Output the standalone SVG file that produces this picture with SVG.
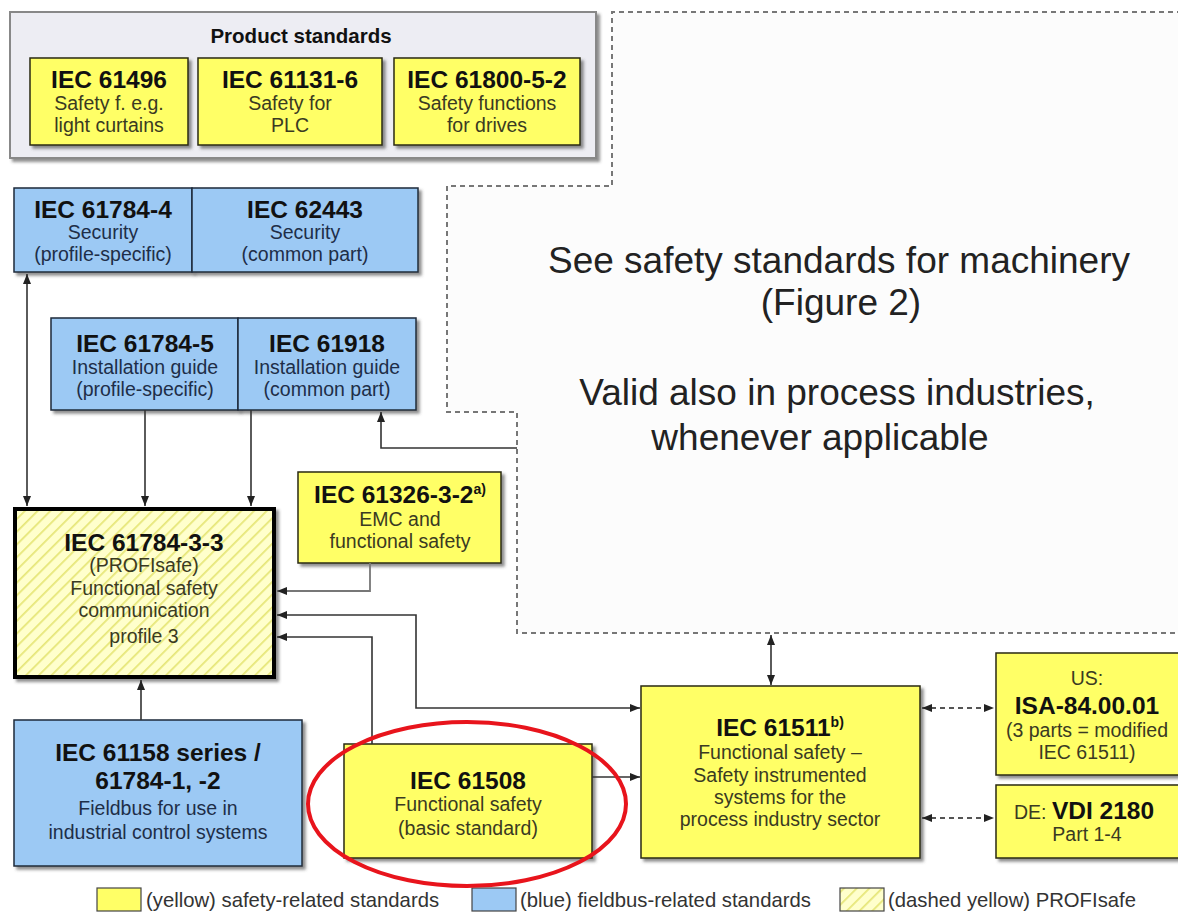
<svg xmlns="http://www.w3.org/2000/svg" width="1178" height="913" viewBox="0 0 1178 913">
<defs>
<style>
text{font-family:"Liberation Sans",Arial,sans-serif;text-anchor:middle}
.t{font-weight:bold;font-size:24.5px;fill:#111}
.s{font-size:19.5px;fill:#3a3a22}
.sb{font-size:19.5px;fill:#1e2e48}
.big{font-size:37px;fill:#222}
.leg{font-size:20.3px;fill:#333;text-anchor:start}
.y{fill:#ffff66;stroke:#2a2a10;stroke-width:1.5}
.b{fill:#9cc9f4;stroke:#1e2a3a;stroke-width:1.5}
.c{fill:none;stroke:#333;stroke-width:1.6}
.cg{fill:none;stroke:#777;stroke-width:1.8}
.cd{fill:none;stroke:#555;stroke-width:1.8;stroke-dasharray:5,4}
</style>
<filter id="sh" x="-10%" y="-10%" width="125%" height="125%">
<feDropShadow dx="3" dy="3" stdDeviation="1.5" flood-color="#444" flood-opacity="0.6"/>
</filter>
<pattern id="hatch" patternUnits="userSpaceOnUse" width="9" height="9" patternTransform="rotate(45)">
<rect width="9" height="9" fill="#ffffcc"/>
<line x1="0" y1="0" x2="0" y2="9" stroke="#e6e678" stroke-width="3.5"/>
</pattern>
<marker id="ah" viewBox="0 0 10 8" refX="10" refY="4" markerWidth="10" markerHeight="8" markerUnits="userSpaceOnUse" orient="auto-start-reverse">
<path d="M0,0 L10,4 L0,8 z" fill="#222"/>
</marker>
</defs>
<rect width="1178" height="913" fill="#fff"/>

<g id="machinery-region">
<path d="M1182,12 H612 V186 H447 V412 H517 V633 H1182" fill="#fcfcfc" stroke="#777" stroke-width="2" stroke-dasharray="5,4"/>
<text class="big" x="839" y="273">See safety standards for machinery</text>
<text class="big" x="841" y="315">(Figure 2)</text>
<text class="big" x="837" y="405">Valid also in process industries,</text>
<text class="big" x="820" y="450">whenever applicable</text>
</g>

<g id="product-standards">
<rect x="10" y="12" width="586" height="146" fill="#ededf3" stroke="#888" stroke-width="2" filter="url(#sh)"/>
<text x="301" y="43" style="font-weight:bold;font-size:20.5px;fill:#111">Product standards</text>
</g>
<g id="iec61496">
<rect class="y" x="30" y="58" width="158" height="87" filter="url(#sh)"/>
<text class="t" x="109" y="88">IEC 61496</text>
<text class="s" x="109" y="110">Safety f. e.g.</text>
<text class="s" x="109" y="132">light curtains</text>
</g>
<g id="iec61131-6">
<rect class="y" x="198" y="58" width="184" height="87" filter="url(#sh)"/>
<text class="t" x="290" y="88">IEC 61131-6</text>
<text class="s" x="290" y="110">Safety for</text>
<text class="s" x="290" y="132">PLC</text>
</g>
<g id="iec61800-5-2">
<rect class="y" x="394" y="58" width="186" height="87" filter="url(#sh)"/>
<text class="t" x="487" y="88">IEC 61800-5-2</text>
<text class="s" x="487" y="110">Safety functions</text>
<text class="s" x="487" y="132">for drives</text>
</g>

<g id="iec61784-4">
<rect class="b" x="14" y="188" width="178" height="84" filter="url(#sh)"/>
<text class="t" x="103" y="218">IEC 61784-4</text>
<text class="sb" x="103" y="239">Security</text>
<text class="sb" x="103" y="261">(profile-specific)</text>
</g>
<g id="iec62443">
<rect class="b" x="192" y="188" width="226" height="84" filter="url(#sh)"/>
<text class="t" x="305" y="218">IEC 62443</text>
<text class="sb" x="305" y="239">Security</text>
<text class="sb" x="305" y="261">(common part)</text>
</g>
<g id="iec61784-5">
<rect class="b" x="51" y="318" width="187" height="92" filter="url(#sh)"/>
<text class="t" x="145" y="352">IEC 61784-5</text>
<text class="sb" x="145" y="374">Installation guide</text>
<text class="sb" x="145" y="396">(profile-specific)</text>
</g>
<g id="iec61918">
<rect class="b" x="238" y="318" width="178" height="92" filter="url(#sh)"/>
<text class="t" x="327" y="352">IEC 61918</text>
<text class="sb" x="327" y="374">Installation guide</text>
<text class="sb" x="327" y="396">(common part)</text>
</g>

<g id="iec61784-3-3">
<rect x="15" y="509" width="259" height="168" fill="url(#hatch)" stroke="#000" stroke-width="4" filter="url(#sh)"/>
<text class="t" x="144" y="551">IEC 61784-3-3</text>
<text class="s" x="144" y="572">(PROFIsafe)</text>
<text class="s" x="144" y="595">Functional safety</text>
<text class="s" x="144" y="617">communication</text>
<text class="s" x="144" y="643">profile 3</text>
</g>
<g id="iec61326-3-2">
<rect class="y" x="298" y="472" width="203" height="91" filter="url(#sh)"/>
<text class="t" x="400" y="503">IEC 61326-3-2<tspan font-size="14" dy="-9">a)</tspan></text>
<text class="s" x="400" y="526">EMC and</text>
<text class="s" x="400" y="548">functional safety</text>
</g>

<g id="iec61158">
<rect class="b" x="14" y="720" width="288" height="146" filter="url(#sh)"/>
<text class="t" x="158" y="761">IEC 61158 series /</text>
<text class="t" x="158" y="789">61784-1, -2</text>
<text class="sb" x="158" y="815">Fieldbus for use in</text>
<text class="sb" x="158" y="839">industrial control systems</text>
</g>
<g id="iec61508">
<rect class="y" x="344" y="744" width="248" height="114" filter="url(#sh)"/>
<text class="t" x="468" y="789">IEC 61508</text>
<text class="s" x="468" y="811">Functional safety</text>
<text class="s" x="468" y="835">(basic standard)</text>
</g>
<g id="iec61511">
<rect class="y" x="641" y="686" width="279" height="172" filter="url(#sh)"/>
<text class="t" x="780" y="736">IEC 61511<tspan font-size="14" dy="-9">b)</tspan></text>
<text class="s" x="780" y="759">Functional safety –</text>
<text class="s" x="780" y="782">Safety instrumented</text>
<text class="s" x="780" y="804">systems for the</text>
<text class="s" x="780" y="826">process industry sector</text>
</g>
<g id="isa-84">
<rect class="y" x="996" y="653" width="190" height="122" filter="url(#sh)"/>
<text class="s" x="1087" y="685">US:</text>
<text class="t" x="1087" y="714">ISA-84.00.01</text>
<text class="s" x="1087" y="737">(3 parts = modified</text>
<text class="s" x="1087" y="759">IEC 61511)</text>
</g>
<g id="vdi2180">
<rect class="y" x="996" y="785" width="190" height="73" filter="url(#sh)"/>
<text x="1084" y="819"><tspan class="s">DE: </tspan><tspan class="t">VDI 2180</tspan></text>
<text class="s" x="1087" y="841">Part 1-4</text>
</g>

<g id="connectors">
<path class="c" d="M27,274 V506" marker-start="url(#ah)" marker-end="url(#ah)"/>
<path class="c" d="M145,410 V506" marker-end="url(#ah)"/>
<path class="c" d="M251,410 V506" marker-end="url(#ah)"/>
<path class="c" d="M517,448 H381 V412" marker-end="url(#ah)"/>
<path class="cg" d="M370,563 V591 H277" marker-end="url(#ah)"/>
<path class="c" d="M277,615 H416 V708 H640" marker-start="url(#ah)" marker-end="url(#ah)"/>
<path class="c" d="M372,744 V637 H277" marker-end="url(#ah)"/>
<path class="c" d="M141,720 V680" marker-end="url(#ah)"/>
<path class="c" d="M592,777 H640" marker-end="url(#ah)"/>
<path class="c" d="M771,635 V685" marker-start="url(#ah)" marker-end="url(#ah)"/>
<path class="cd" d="M922,708 H994" marker-start="url(#ah)" marker-end="url(#ah)"/>
<path class="cd" d="M922,818 H994" marker-start="url(#ah)" marker-end="url(#ah)"/>
</g>

<g id="legend">
<rect x="97" y="888" width="44" height="23" fill="#ffff66" stroke="#444" stroke-width="1.2"/>
<text class="leg" x="146" y="907">(yellow) safety-related standards</text>
<rect x="472" y="888" width="44" height="23" fill="#9cc9f4" stroke="#444" stroke-width="1.2"/>
<text class="leg" x="520" y="907">(blue) fieldbus-related standards</text>
<rect x="840" y="888" width="44" height="23" fill="url(#hatch)" stroke="#444" stroke-width="1.2"/>
<text class="leg" x="888" y="907">(dashed yellow) PROFIsafe</text>
</g>

<g id="highlight">
<ellipse cx="467" cy="804" rx="159" ry="82" fill="none" stroke="#e8141c" stroke-width="4"/>
</g>
</svg>
